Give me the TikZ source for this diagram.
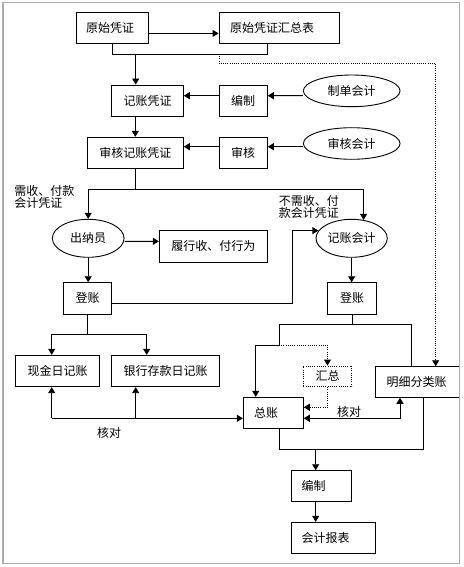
\documentclass[tikz,border=0pt]{standalone}
\usepackage{fontspec}
\setmainfont{Noto Sans CJK SC}
\usetikzlibrary{arrows.meta,shapes.geometric}
\begin{document}
\begin{tikzpicture}[x=1pt,y=-1pt,line width=0.9pt,
  every node/.style={font=\fontsize{12}{12.6}\selectfont},
  box/.style={draw,rectangle,inner sep=0pt,line width=0.9pt},
  ell/.style={draw,ellipse,inner sep=0pt,line width=0.9pt},
  arr/.style={-{Triangle[length=6pt,width=7pt]}},
  dblarr/.style={{Triangle[length=6pt,width=7pt]}-{Triangle[length=6pt,width=7pt]}},
  dotln/.style={dash pattern=on 0.9pt off 1.3pt},
  lbl/.style={inner sep=0pt}]
\path[use as bounding box] (0,0) rectangle (463,567);
\clip (0,0) rectangle (463,567);
% nodes
\node[box,minimum width=72pt,minimum height=31pt,text width=52pt,align=left,inner xsep=10pt] (A) at (112,27.8) {原始凭证};
\node[box,minimum width=120pt,minimum height=31pt,text width=98pt,align=left,inner xsep=11pt] (B) at (279,27.8) {原始凭证汇总表};
\node[box,minimum width=71.6pt,minimum height=31.3pt] (C) at (147.5,100.65) {记账凭证};
\node[box,minimum width=48.3pt,minimum height=31.3pt] (D1) at (243.15,100.65) {编制};
\node[ell,minimum width=96.7pt,minimum height=31.7pt] (E1) at (351.7,90.85) {制单会计};
\node[box,minimum width=96pt,minimum height=31.4pt] (F) at (135.3,153) {审核记账凭证};
\node[box,minimum width=48.3pt,minimum height=31.4pt] (D2) at (243.15,153) {审核};
\node[ell,minimum width=96.7pt,minimum height=31.6pt] (E2) at (351.7,143.5) {审核会计};
\node[ell,minimum width=71.7pt,minimum height=38pt] (G) at (88.2,238.3) {出纳员};
\node[box,minimum width=108pt,minimum height=31.3pt] (I) at (213.3,246.35) {履行收、付行为};
\node[ell,minimum width=71.3pt,minimum height=38pt] (H) at (351.65,238.3) {记账会计};
\node[box,minimum width=48.4pt,minimum height=31.3pt] (J) at (87.5,298.35) {登账};
\node[box,minimum width=49pt,minimum height=31.3pt] (K) at (352.2,298.35) {登账};
\node[box,minimum width=83.6pt,minimum height=31.4pt] (O) at (57.5,371) {现金日记账};
\node[box,minimum width=107.6pt,minimum height=31.4pt] (P) at (165.5,371) {银行存款日记账};
\node[box,dotln,minimum width=48.4pt,minimum height=20.7pt] (N) at (327.5,376.35) {汇总};
\node[box,minimum width=83.8pt,minimum height=30.6pt,text width=61.8pt,align=left,inner xsep=11pt] (M) at (417.6,382) {明细分类账};
\node[box,minimum width=60pt,minimum height=31pt,text width=38.6pt,align=left,inner xsep=10.7pt] (L) at (273.3,412.8) {总账};
\node[box,minimum width=59.3pt,minimum height=31pt,text width=39.3pt,align=left,inner xsep=10pt] (Q) at (321.35,486.2) {编制};
\node[box,minimum width=84pt,minimum height=31pt,text width=64pt,align=left,inner xsep=10pt] (R) at (333.7,537.8) {会计报表};
% labels
\node[lbl,anchor=west,align=left] (t1) at (14,197) {需收、付款\\会计凭证};
\node[lbl,anchor=west,align=left] (t2) at (278.3,207) {不需收、付\\款会计凭证};
\node[lbl] (t3) at (349,411.5) {核对};
\node[lbl] (t4) at (109,433.3) {核对};
% coordinates
\coordinate (j1) at (135.7,54);
\coordinate (d1) at (219,54);
\coordinate (j2) at (135.3,189.3);
\coordinate (j4) at (279,345);
\coordinate (k1) at (51.7,418.3);
\coordinate (k2) at (135.7,418.3);
\coordinate (j6) at (315.7,449);
% connectors
\draw[arr] ([yshift=-5.6pt]A.east) -- ([yshift=-5.6pt]B.west);
\draw (A.south) -- ++(0,11) -| ([xshift=-12pt]B.south);
\draw[arr] (j1) -- (j1 |- C.north);
\draw[dotln,arr] (d1) -- ++(0,9.3) -| ([xshift=18.1pt]M.north);
\draw[arr] ([yshift=-4.85pt]E1.west) -- ([yshift=4.95pt]D1.east);
\draw[arr] ([yshift=4.95pt]D1.west) -- ([yshift=4.95pt]C.east);
\draw[arr] (F.north |- C.south) -- (F.north);
\draw[arr] ([yshift=-3.2pt]E2.west) -- ([yshift=6.3pt]D2.east);
\draw[arr] ([yshift=6.3pt]D2.west) -- ([yshift=6.3pt]F.east);
\draw (F.south) -- (j2);
\draw[arr] (j2) -| (G.north);
\draw[arr] (j2) -| (H.57);
\draw[arr] ([yshift=-3pt]G.east) -- ([yshift=5pt]I.west);
\draw[arr] (G.south) -- (G.south |- J.north);
\draw[arr] ([yshift=-5pt]J.east) -- ++(180,0) |- (H.167);
\draw[arr] (H.south) -- (H.south |- K.north);
\draw (K.south) -- ++(0,10.3) coordinate (j3);
\draw (j3) -| ([xshift=-5.9pt]M.north);
\draw (j3) -| (j4);
\draw[arr] (j4) -| ([xshift=-17.6pt]L.north);
\draw[dotln,arr] (j4) -| (N.north);
\draw[dotln,arr] (N.south) |- ([yshift=5.5pt]L.east);
\draw[dblarr] ([yshift=-5.5pt]L.east) -| ([xshift=-17.6pt]M.south);
\draw[arr] (k1) -- ([yshift=-5.5pt]L.west);
\draw[arr] (k1) -- ([xshift=-5.8pt]O.south);
\draw[arr] (k2) -- (k2 |- P.south);
\draw (J.south) -- ++(0,20.3) coordinate (j5);
\draw[arr] (j5) -| ([xshift=-5.8pt]O.north);
\draw[arr] (j5) -| ([xshift=-18.8pt]P.north);
\draw ([xshift=5.7pt]L.south) -- ++(0,20.7) -| ([xshift=5.7pt]M.south);
\draw[arr] (j6) -- (j6 |- Q.north);
\draw[arr] (j6 |- Q.south) -- (j6 |- R.north);
% frame
\draw[gray!65,line width=1.4pt] (3,2.5) rectangle (459.5,563.5);
\end{tikzpicture}
\end{document}
